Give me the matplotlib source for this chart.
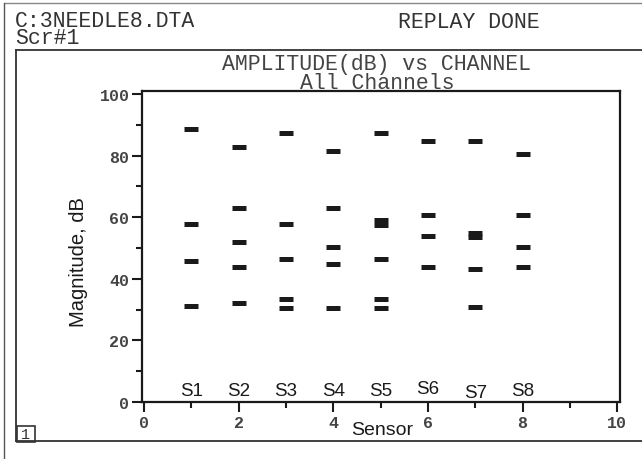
import matplotlib
matplotlib.use('Agg')
import matplotlib.pyplot as plt
from matplotlib.lines import Line2D
from matplotlib.patches import Rectangle
from matplotlib.ticker import MultipleLocator

# ── Datos ────────────────────────────────────────────────────────────────────
sensores = [1, 2, 3, 4, 5, 6, 7, 8]
etiquetas = ['S1', 'S2', 'S3', 'S4', 'S5', 'S6', 'S7', 'S8']
etiqueta_y = [3.6, 3.6, 3.6, 3.6, 3.6, 4.4, 3.1, 3.6]

amp_s1 = [88.6, 57.8, 45.9, 31.1]
amp_s2 = [82.7, 63.0, 51.8, 43.7, 32.1]
amp_s3 = [87.5, 57.8, 46.6, 33.3, 30.4]
amp_s4 = [81.6, 63.0, 50.2, 44.8, 30.5]
amp_s5 = [87.5, 59.1, 57.5, 46.6, 33.3, 30.4]
amp_s6 = [84.6, 60.7, 54.0, 43.7]
amp_s7 = [84.6, 55.0, 53.6, 43.2, 30.7]
amp_s8 = [80.5, 60.8, 50.4, 44.0]
amplitudes = [amp_s1, amp_s2, amp_s3, amp_s4, amp_s5, amp_s6, amp_s7, amp_s8]

W, H = 642, 460
MONO = 'Liberation Mono'
SANS = 'Liberation Sans'
TINTA = '#1a1a1a'


def px(x, y):
    """Pixel (origen arriba-izquierda) -> fracción de figura."""
    return x / W, 1 - y / H


fig = plt.figure(figsize=(W / 100, H / 100), dpi=100)
fig.patch.set_facecolor('white')

# ── Ejes ─────────────────────────────────────────────────────────────────────
l, t = px(142, 92)
r, b = px(620, 403)
ax = fig.add_axes([l, b, r - l, t - b])

for s, amps in zip(sensores, amplitudes):
    ax.plot([s] * len(amps), amps, linestyle='none', marker='_',
            ms=10.5, mew=3.6, color=TINTA)

for s, lbl, yy in zip(sensores, etiquetas, etiqueta_y):
    ax.text(s, yy, lbl, ha='center', va='center', fontsize=13.5,
            family=SANS, color=TINTA)

ax.set_xlim(-0.04, 10.06)
ax.set_ylim(0, 101)
ax.xaxis.set_major_locator(MultipleLocator(2))
ax.xaxis.set_minor_locator(MultipleLocator(1))
ax.yaxis.set_major_locator(MultipleLocator(20))
ax.yaxis.set_minor_locator(MultipleLocator(10))
ax.tick_params(which='major', length=7, width=1.5, color=TINTA,
               labelsize=12, labelcolor='#444444', pad=2)
ax.tick_params(which='minor', length=4, width=1.5, color=TINTA)
for lab in ax.get_xticklabels() + ax.get_yticklabels():
    lab.set_family(MONO)
    lab.set_fontweight('bold')
for sp in ax.spines.values():
    sp.set_linewidth(1.6)
    sp.set_color(TINTA)

# ── Marco y textos de pantalla ────────────────────────────────────────────────
lineas = [
    ((5, 642), (4, 4), 1.0, '#888888'),
    ((4, 4), (4, 460), 1.0, '#555555'),
    ((16, 642), (51, 51), 1.3, '#333333'),
    ((16, 16), (51, 442), 1.3, '#333333'),
    ((16, 642), (442, 442), 1.3, '#333333'),
]
for xs, ys, lw, c in lineas:
    p0, p1 = px(xs[0], ys[0]), px(xs[1], ys[1])
    fig.add_artist(Line2D([p0[0], p1[0]], [p0[1], p1[1]], lw=lw, color=c,
                          transform=fig.transFigure))

x0, y0 = px(17, 443)
x1, y1 = px(35, 427)
fig.add_artist(Rectangle((x0, y0), x1 - x0, y1 - y0, fill=False, lw=1.2,
                         edgecolor='#333333', transform=fig.transFigure))
fig.text(*px(26, 435), '1', ha='center', va='center', fontsize=11,
         family=MONO, color='#333333')

fig.text(*px(15, 30), 'C:3NEEDLE8.DTA\nScr#1', ha='left', va='center',
         multialignment='left', linespacing=0.78,
         fontsize=15.5, family=MONO, color='#333333')
fig.text(*px(398, 22), 'REPLAY DONE', ha='left', va='center',
         fontsize=15.5, family=MONO, color='#333333')

fig.text(*px(377, 74), 'AMPLITUDE(dB) vs CHANNEL\nAll Channels',
         ha='center', va='center', multialignment='center', linespacing=0.85,
         fontsize=15.5, family=MONO, color='#444444')

fig.text(*px(382, 431), 'Sensor', ha='center', va='center',
         fontsize=14, family=SANS, color=TINTA)
fig.text(*px(78, 262), 'Magnitude, dB', ha='center', va='center',
         rotation=90, fontsize=14.5, family=SANS, color=TINTA)

fig.savefig('out.png', dpi=100)
